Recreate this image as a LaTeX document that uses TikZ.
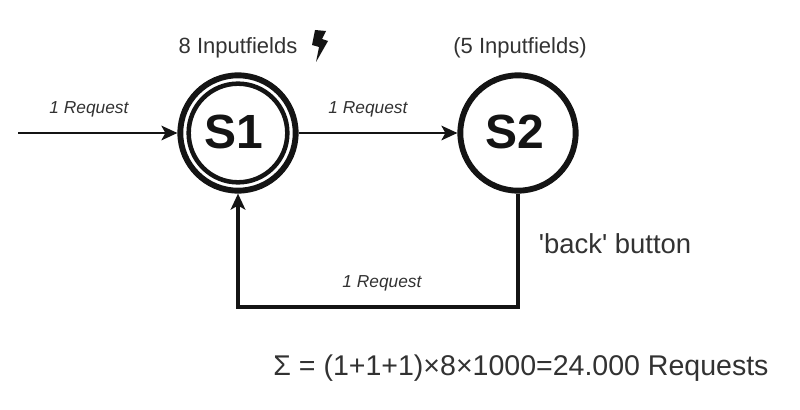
\documentclass[tikz,border=0pt]{standalone}
\usepackage{fontspec}
\setmainfont{Liberation Sans}
\newfontfamily\plainsans{Liberation Sans}
\usetikzlibrary{arrows.meta}
\definecolor{ink}{RGB}{20,20,20}
\definecolor{soft}{RGB}{50,50,50}
\tikzset{
  px/.style={x=0.75pt,y=-0.75pt},
  state/.style={circle,draw=ink,line width=4.4pt,minimum size=86.5pt,inner sep=0pt,font=\fontsize{36}{38}\selectfont\bfseries,text=ink},
  conn/.style={draw=ink,-{Stealth[length=12pt,width=11pt,inset=3pt]}},
  req/.style={font=\itshape\fontsize{13}{15}\selectfont,text=soft,inner sep=0pt},
  lab/.style={font=\fontsize{16.5}{18}\selectfont,text=soft,inner sep=0pt},
  big/.style={font=\plainsans\fontsize{20.6}{23}\selectfont,text=soft,inner sep=0pt},
}
\begin{document}
\begin{tikzpicture}[px]
\useasboundingbox (0,0) rectangle (800,410);
\node[state] (s1) at (238,133) {\raisebox{1.5pt}{S1\kern6pt}};
\node[draw=ink,circle,line width=3.4pt,minimum size=74pt,inner sep=0pt] (s1i) at (238,133) {};
\node[state] (s2) at (518,133) {\raisebox{1.5pt}{S2\kern4pt}};
\coordinate (start) at (18,133);
\coordinate (corner1) at (s2.south |- 0,307);
\coordinate (corner2) at (s1.south |- 0,307);
\draw[conn,line width=1.6pt] (start) -- (s1.west);
\draw[conn,line width=1.6pt] (s1.east) -- (s2.west);
\draw[conn,line width=3pt] (s2.south) -- (corner1) -- (corner2) -- (s1.south);
\node[req] (r1) at (89,109) {1 Request};
\node[req] (r2) at (368,109) {1 Request};
\node[req] (r3) at (382,283) {1 Request};
\node[lab] (t1) at (238,48) {8 Inputfields};
\node[lab] (t2) at (520,48) {(5 Inputfields)};
\node[big] (b) at (615,244) {'back' button};
\node[big,font=\plainsans\fontsize{21.4}{24}\selectfont] (f) at (521,368) {Σ = (1+1+1)×8×1000=24.000 Requests};
\fill[ink] (315,30) -- (326,31) -- (322,39) -- (328,41) -- (316,62) -- (319,47) -- (312,45) -- cycle;
\end{tikzpicture}
\end{document}
